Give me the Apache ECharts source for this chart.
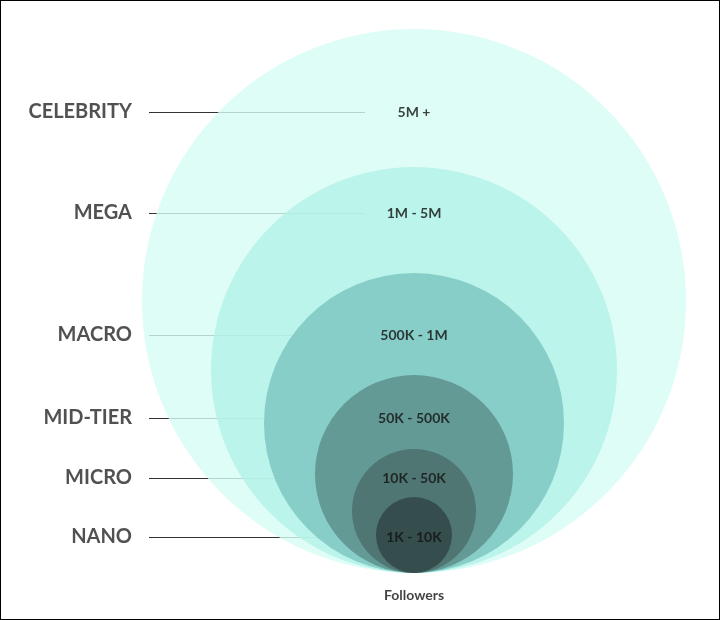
<!DOCTYPE html>
<html><head><meta charset="utf-8">
<script src="https://cdn.jsdelivr.net/npm/echarts@6/dist/echarts.min.js"></script>
<style>html,body{margin:0;padding:0;background:#fff}#c{width:718px;height:618px;border:1px solid #000}</style>
</head><body><div id="c"></div>
<script>
const tiers = ['CELEBRITY','MEGA','MACRO','MID-TIER','MICRO','NANO'];
const ranges = ['5M +','1M - 5M','500K - 1M','50K - 500K','10K - 50K','1K - 10K'];
const radii = [272, 203, 150, 99, 62, 38];
const labelY = [111, 212, 334, 417, 477, 536];
const colors = ['#d6fcf4','#b3f1e9','#7cc4bf','#5b8d89','#4a6d6a','#2e4442'];
const cx = 413, bottom = 572;

const chart = echarts.init(document.getElementById('c'));
chart.setOption({
  animation:false,
  grid:{left:0,right:0,top:0,bottom:0},
  xAxis:{type:'value',min:0,max:718,show:false},
  yAxis:{type:'value',min:0,max:618,inverse:true,show:false},
  series:[
    {type:'scatter',symbol:'circle',silent:true,
     data:radii.map((r,i)=>({value:[cx,bottom-r],symbolSize:2*r,itemStyle:{color:colors[i]}}))},
    {type:'lines',coordinateSystem:'cartesian2d',silent:true,
     lineStyle:{color:'#333',width:1.2,opacity:1},
     data:labelY.map(y=>({coords:[[148,y],[364,y]]}))},
    {type:'scatter',symbolSize:0,silent:true,
     label:{show:true,position:'left',distance:0,formatter:p=>p.name,fontFamily:'Lato',fontWeight:'bold',fontSize:20,color:'#262626'},
     data:tiers.map((t,i)=>({name:t,value:[131,labelY[i]]}))},
    {type:'scatter',symbolSize:0,silent:true,
     label:{show:true,position:'inside',formatter:p=>p.name,fontFamily:'Lato',fontWeight:'bold',fontSize:14,color:'#111'},
     data:ranges.map((t,i)=>({name:t,value:[cx,labelY[i]]}))
       .concat([{name:'Followers',value:[cx,594]}])}
  ]
});
</script></body></html>
